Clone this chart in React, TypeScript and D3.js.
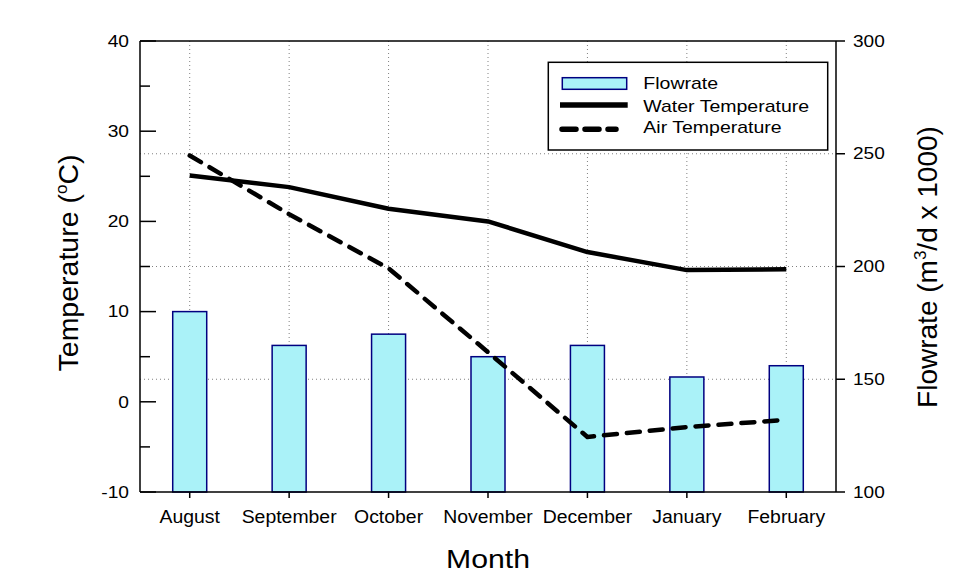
import React from "react";
import * as d3 from "d3";

const months = ["August", "September", "October", "November", "December", "January", "February"];
const flowrate = [180, 165, 170, 160, 165, 151, 156];
const waterTemp = [25.1, 23.8, 21.4, 20.0, 16.6, 14.6, 14.7];
const airTemp = [27.3, 20.8, 14.8, 5.5, -3.9, -2.8, -2.0];

const leftTicks = [-10, 0, 10, 20, 30, 40];
const leftMinor = [-5, 5, 15, 25, 35];
const rightTicks = [100, 150, 200, 250, 300];
const gridRight = [150, 200, 250];

const W = 958, H = 584;
const X0 = 140, X1 = 836, Y0 = 41, Y1 = 492;
const FONT = "'Liberation Sans', Arial, Helvetica, sans-serif";
const BAR_FILL = "#aaf2f8";
const BAR_STROKE = "#000080";

function HText({ x, y, size, sx = 1.2, anchor = "start", children }: any) {
  return (
    <text transform={`translate(${x},${y}) scale(${sx},1)`} fontSize={size} textAnchor={anchor} fontFamily={FONT} fill="#000">
      {children}
    </text>
  );
}

export default function App() {
  const x = d3.scaleBand<string>().domain(months).range([X0, X1]);
  const cx = (m: string) => (x(m) as number) + x.bandwidth() / 2;
  const yL = d3.scaleLinear().domain([-10, 40]).range([Y1, Y0]);
  const yR = d3.scaleLinear().domain([100, 300]).range([Y1, Y0]);
  const barW = 34;

  const line = d3
    .line<number>()
    .x((_, i) => cx(months[i]))
    .y((d) => yL(d));

  return (
    <svg width={W} height={H} style={{ position: "absolute", left: 0, top: 0, background: "#fff" }} fontFamily={FONT}>
      <rect x={0} y={0} width={W} height={H} fill="#fff" />
      {/* grid */}
      <g stroke="#808080" strokeWidth={1} strokeDasharray="1 3">
        {months.map((m) => (
          <line key={m} x1={cx(m)} x2={cx(m)} y1={Y0} y2={Y1} />
        ))}
        {gridRight.map((v) => (
          <line key={v} x1={X0} x2={X1} y1={yR(v)} y2={yR(v)} />
        ))}
      </g>
      {/* bars */}
      {months.map((m, i) => (
        <rect
          key={m}
          x={cx(m) - barW / 2}
          y={yR(flowrate[i])}
          width={barW}
          height={Y1 - yR(flowrate[i])}
          fill={BAR_FILL}
          stroke={BAR_STROKE}
          strokeWidth={1.5}
        />
      ))}
      {/* lines */}
      <path d={line(waterTemp) as string} fill="none" stroke="#000" strokeWidth={4.5} strokeLinejoin="round" />
      <path
        d={line(airTemp) as string}
        fill="none"
        stroke="#000"
        strokeWidth={4.5}
        strokeDasharray="13 10"
        strokeLinecap="round"
        strokeLinejoin="round"
      />
      {/* frame */}
      <g stroke="#000" strokeWidth={1.5} fill="none">
        <line x1={X0} x2={X1} y1={Y0} y2={Y0} />
        <line x1={X0} x2={X1} y1={Y1} y2={Y1} />
        <line x1={X0} x2={X0} y1={Y0} y2={Y1} />
        <line x1={X1} x2={X1} y1={Y0} y2={Y1} />
        {leftTicks.map((v) => (
          <line key={"lt" + v} x1={X0} x2={X0 + 16} y1={yL(v)} y2={yL(v)} />
        ))}
        {leftMinor.map((v) => (
          <line key={"lm" + v} x1={X0} x2={X0 + 10} y1={yL(v)} y2={yL(v)} />
        ))}
        {rightTicks.map((v) => (
          <line key={"rt" + v} x1={X1} x2={X1 + 9} y1={yR(v)} y2={yR(v)} />
        ))}
        {months.map((m) => (
          <line key={"bt" + m} x1={cx(m)} x2={cx(m)} y1={Y1} y2={Y1 + 6} />
        ))}
      </g>
      {/* tick labels */}
      {leftTicks.map((v) => (
        <HText key={"ll" + v} x={129} y={yL(v) + 5.7} size={16} sx={1.2} anchor="end">
          {v}
        </HText>
      ))}
      {rightTicks.map((v) => (
        <HText key={"rl" + v} x={853} y={yR(v) + 5.7} size={16} sx={1.19} anchor="start">
          {v}
        </HText>
      ))}
      {months.map((m) => (
        <HText key={"xl" + m} x={cx(m)} y={523.3} size={18.5} sx={1.05} anchor="middle">
          {m}
        </HText>
      ))}
      {/* axis titles */}
      <HText x={(X0 + X1) / 2} y={568} size={25} sx={1.21} anchor="middle">
        Month
      </HText>
      <text transform={`translate(78,263) rotate(-90)`} fontSize={28.5} textAnchor="middle" fontFamily={FONT}>
        Temperature (<tspan fontSize={17} dy={-11}>o</tspan>
        <tspan dy={11}>C)</tspan>
      </text>
      <text transform={`translate(937,267) rotate(-90)`} fontSize={28} textAnchor="middle" fontFamily={FONT}>
        Flowrate (m<tspan fontSize={17} dy={-11}>3</tspan>
        <tspan dy={11}>/d x 1000)</tspan>
      </text>
      {/* legend */}
      <rect x={548.3} y={62.3} width={279.4} height={87.7} fill="#fff" stroke="#000" strokeWidth={1.5} />
      <rect x={562.3} y={77.7} width={64.4} height={11.6} fill={BAR_FILL} stroke={BAR_STROKE} strokeWidth={1.5} />
      <line x1={560} x2={627.7} y1={105} y2={105} stroke="#000" strokeWidth={5.5} />
      <line x1={562} x2={616} y1={129.3} y2={129.3} stroke="#000" strokeWidth={5.5} strokeDasharray="14 9" strokeLinecap="round" />
      <HText x={643.3} y={89.3} size={16} sx={1.22}>Flowrate</HText>
      <HText x={643.3} y={112.3} size={16} sx={1.22}>Water Temperature</HText>
      <HText x={643.3} y={132.7} size={16} sx={1.22}>Air Temperature</HText>
    </svg>
  );
}
